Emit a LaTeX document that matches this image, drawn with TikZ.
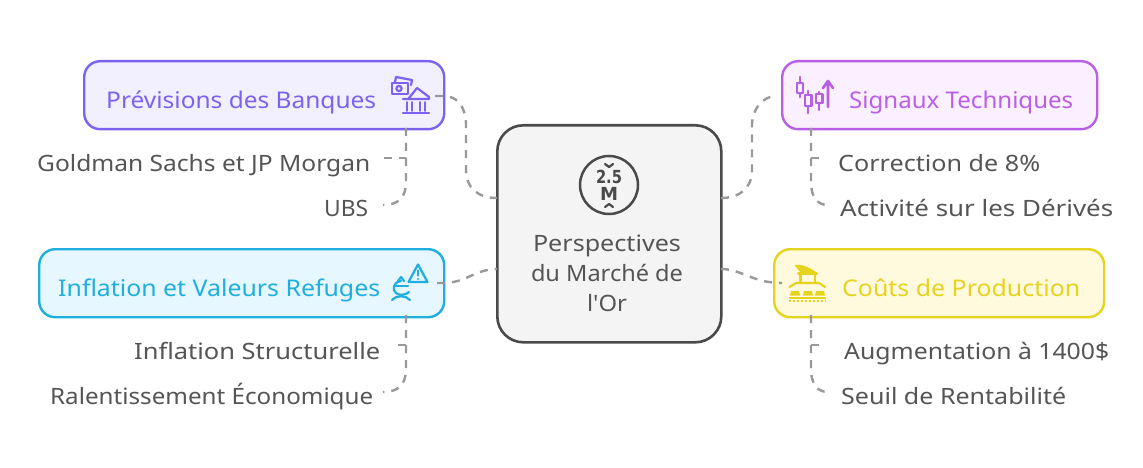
\documentclass[tikz,border=0pt]{standalone}
\usepackage{graphicx}
\usepackage{fontspec}
\setmainfont{Noto Sans}
\newfontfamily\plainf{Noto Sans}
\newfontfamily\iconf{DejaVu Sans}
\newcommand{\fitw}[2]{\resizebox{#1pt}{\height}{#2}}
\definecolor{purp}{HTML}{7C62EE}
\definecolor{purpf}{HTML}{F2F0FF}
\definecolor{mag}{HTML}{B95FE6}
\definecolor{magf}{HTML}{FBF0FF}
\definecolor{cyan1}{HTML}{1FAEDD}
\definecolor{cyanf}{HTML}{E6F7FF}
\definecolor{yel}{HTML}{E5D31E}
\definecolor{yelf}{HTML}{FFFADD}
\definecolor{ink}{HTML}{4A4A4A}
\definecolor{txt}{HTML}{555555}
\definecolor{conn}{HTML}{999999}
\tikzset{
  x=1pt,y=-1pt,
  box/.style={draw,line width=2.4pt,rounded corners=16pt,inner sep=0pt,anchor=north west},
  title/.style={font=\fontsize{23}{28}\selectfont,inner sep=0pt,anchor=base west},
  leaf/.style={font=\fontsize{22.5}{28}\selectfont,text=txt,inner sep=0pt,anchor=base west},
  link/.style={draw=conn,line width=2.4pt,dash pattern=on 8pt off 7pt},
  ic/.style={line width=2.2pt,line cap=round,line join=round,fill=none}
}
\begin{document}
\begin{tikzpicture}
\useasboundingbox (0,0) rectangle (1143,468);
\fill[white] (0,0) rectangle (1143,468);
% boxes
\node[box,draw=ink,fill=black!4.5,line width=2.6pt,rounded corners=26pt,minimum width=224pt,minimum height=217pt] (c) at (496,124) {};
\node[box,draw=purp,fill=purpf,minimum width=360pt,minimum height=68pt] (a) at (83,60) {};
\node[box,draw=mag,fill=magf,minimum width=315pt,minimum height=68pt] (b) at (781,60) {};
\node[box,draw=cyan1,fill=cyanf,minimum width=405pt,minimum height=68pt] (d) at (38,248) {};
\node[box,draw=yel,fill=yelf,minimum width=330pt,minimum height=68pt] (e) at (773,248) {};
% titles
\node[title,text=purp] (ta) at (106,109) {\fitw{270}{Prévisions des Banques}};
\node[title,text=mag] (tb) at (849,109) {\fitw{224}{Signaux Techniques}};
\node[title,text=cyan1] (td) at (58,296) {\fitw{322}{Inflation et Valeurs Refuges}};
\node[title,text=yel] (te) at (842,296) {\fitw{238}{Coûts de Production}};
% leaves
\node[leaf] (l1) at (37,171.7) {\fitw{333}{Goldman Sachs et JP Morgan}};
\node[leaf] (l2) at (324,216.7) {\fitw{44}{UBS}};
\node[leaf] (l3) at (838,171.7) {\fitw{202}{Correction de 8\%}};
\node[leaf] (l4) at (840,216.7) {\fitw{273}{Activité sur les Dérivés}};
\node[leaf] (l5) at (134,359.7) {\fitw{246}{Inflation Structurelle}};
\node[leaf] (l6) at (50,404.7) {\fitw{323}{Ralentissement Économique}};
\node[leaf] (l7) at (844,359.7) {\fitw{265}{Augmentation à 1400\$}};
\node[leaf] (l8) at (841,404.7) {\fitw{225}{Seuil de Rentabilité}};
% centre text
\node[font=\fontsize{22.5}{30}\selectfont,text=txt,align=center,inner sep=0pt] (ct) at (607,273) {\fitw{148}{Perspectives}\\\fitw{152}{du Marché de}\\\fitw{40}{\plainf l'Or}};
% connector ends
\coordinate (cl1) at (497,198); \coordinate (cl2) at (497,269);
\coordinate (cr1) at (721,198); \coordinate (cr2) at (721,269);
\coordinate (ar) at (435,96); \coordinate (br) at (776,96);
\coordinate (dr) at (437,283); \coordinate (el) at (782,283);
\coordinate (ab) at (406,128); \coordinate (bb) at (811,128);
\coordinate (db) at (406,315); \coordinate (eb) at (811,315);
\coordinate (j1) at (406,158); \coordinate (j2) at (811,158);
\coordinate (j3) at (406,345); \coordinate (j4) at (811,345);
\coordinate (e1) at (384,158); \coordinate (e2) at (383,205);
\coordinate (e3) at (820,158); \coordinate (e4) at (828,205);
\coordinate (e5) at (398,345); \coordinate (e6) at (383,392);
\coordinate (e7) at (820,345); \coordinate (e8) at (828,392);
\draw[link] (ar) -- (444,96) .. controls (458,96) and (466,108) .. (466,125) -- (466,170) .. controls (466,188) and (478,198) .. (cl1);
\draw[link] (ab) -- (406,182) .. controls (406,198) and (398,205) .. (e2);
\draw[link] (e1) -- (j1);
\draw[link] (cr1) .. controls (740,198) and (752,188) .. (752,170) -- (752,125) .. controls (752,108) and (764,96) .. (br);
\draw[link] (bb) -- (811,182) .. controls (811,198) and (818,205) .. (e4);
\draw[link] (j2) -- (e3);
\draw[link] (dr) -- (444,283) .. controls (465,283) and (476,269) .. (cl2);
\draw[link] (db) -- (406,369) .. controls (406,385) and (398,392) .. (e6);
\draw[link] (e5) -- (j3);
\draw[link] (cr2) .. controls (742,269) and (752,283) .. (el);
\draw[link] (eb) -- (811,369) .. controls (811,385) and (818,392) .. (e8);
\draw[link] (j4) -- (e7);
% centre icon
\draw[ink,line width=2.5pt] (609,185) circle (29pt);
\node[font=\fontsize{18}{18}\selectfont\iconf\bfseries,text=ink,inner sep=0pt] (n25) at (609,177) {\fitw{26}{2.5}};
\node[font=\fontsize{18}{18}\selectfont\iconf\bfseries,text=ink,inner sep=0pt] (nm) at (609,194) {\fitw{18}{M}};
\draw[ink,ic] (605,164) -- (609,167) -- (613,164);
\draw[ink,ic] (605,207) -- (609,204) -- (613,207);
% purple icon
\begin{scope}[purp,ic]
\draw (395,82) -- (396,77) -- (412,80) -- (411,85);
\draw (392,83) rectangle (408,94);
\draw (399,88.5) circle (2.6pt);
\draw (409,98) -- (417,88) -- (429,97) -- (429,99) -- (403,99);
\draw[line width=1.8pt] (407,102) -- (407,111) (412,102) -- (412,111) (420,102) -- (420,111) (425,102) -- (425,111);
\draw (403,113) -- (429,113);
\end{scope}
% magenta icon
\begin{scope}[mag,ic,line width=2.6pt]
\draw (800,77) -- (800,97);
\draw[fill=magf] (797,83) rectangle (803,93);
\draw (808,91) -- (808,113);
\draw[fill=magf] (805,95) rectangle (811.5,106);
\draw (819,92) -- (819,110);
\draw[fill=magf] (816,94) rectangle (822.5,103);
\draw (828,107) -- (828,82) (823,88) -- (828,81) -- (833,88);
\end{scope}
% cyan icon
\begin{scope}[cyan1,ic]
\draw (418,264.5) -- (408.5,282) -- (427.5,282) -- cycle;
\draw (418,270.5) -- (418,275.5) (418,279) -- (418,279.1);
\draw (401,281) .. controls (393,282) and (392,290) .. (396,293) .. controls (399,296) and (406,295) .. (409,292);
\draw (398,281) -- (401,277) -- (404,281);
\draw (395,286) -- (408,286);
\draw (392,300) .. controls (396,295) and (406,295) .. (410,300);
\end{scope}
% yellow icon
\begin{scope}[yel,ic]
\fill[yel] (794.5,265) .. controls (803,264) and (811,268) .. (817,273) -- (801,273) .. controls (799,270) and (796,268) .. (794.5,265) -- cycle;
\draw (798,273.5) -- (817,273.5);
\draw (800.5,274) -- (800.5,283) (815,274) -- (815,283);
\draw (789.5,287) -- (796,283) -- (819,283) -- (825,287);
\fill[yel] (791,291) -- (799,291) -- (800,295.5) -- (790,295.5) -- cycle;
\fill[yel] (804,291) -- (812,291) -- (813,295.5) -- (803,295.5) -- cycle;
\fill[yel] (816,291) -- (824,291) -- (825,295.5) -- (815,295.5) -- cycle;
\fill[yel] (789,297) rectangle (826,299);
\draw[line width=2pt,line cap=butt,dash pattern=on 2pt off 2pt] (789,300.5) -- (826,300.5);
\end{scope}
\end{tikzpicture}
\end{document}
